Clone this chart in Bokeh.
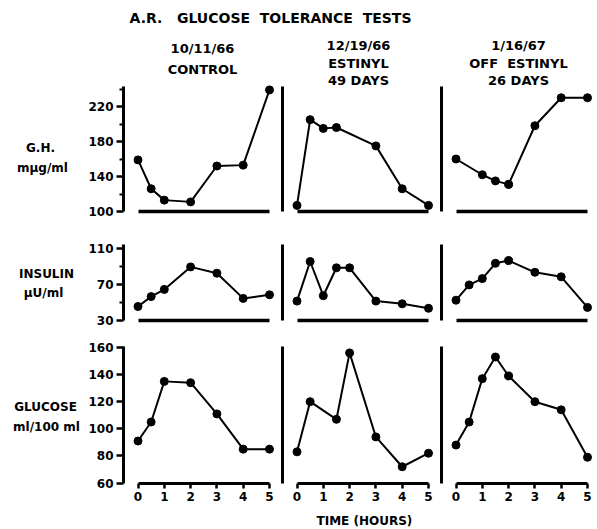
from bokeh.plotting import figure
from bokeh.models import Range1d, LinearAxis, FixedTicker
from bokeh.core.properties import value
from bokeh.embed import file_html
from bokeh.resources import INLINE

# ---------------- data ----------------
hour_ticks = [0, 1, 2, 3, 4, 5]
gh_ticks = [100, 140, 180, 220]
gh_minor = [120, 160, 200, 240]
insulin_ticks = [30, 70, 110]
insulin_minor = [50, 90]
glucose_ticks = [60, 80, 100, 120, 140, 160]

gh_control_t = [0, 0.5, 1, 2, 3, 4, 5]
gh_control = [159, 126, 113, 111, 152, 153, 239]
gh_estinyl_t = [0, 0.5, 1, 1.5, 3, 4, 5]
gh_estinyl = [107, 205, 195, 196, 175, 126, 107]
gh_off_t = [0, 1, 1.5, 2, 3, 4, 5]
gh_off = [160, 142, 135, 131, 198, 230, 230]

insulin_control_t = [0, 0.5, 1, 2, 3, 4, 5]
insulin_control = [45, 56, 64, 89, 82, 54, 58]
insulin_estinyl_t = [0, 0.5, 1, 1.5, 2, 3, 4, 5]
insulin_estinyl = [51, 95, 57, 88, 88, 51, 48, 43]
insulin_off_t = [0, 0.5, 1, 1.5, 2, 3, 4, 5]
insulin_off = [52, 69, 76, 93, 96, 83, 78, 44]

glucose_control_t = [0, 0.5, 1, 2, 3, 4, 5]
glucose_control = [91, 105, 135, 134, 111, 85, 85]
glucose_estinyl_t = [0, 0.5, 1.5, 2, 3, 4, 5]
glucose_estinyl = [83, 120, 107, 156, 94, 72, 82]
glucose_off_t = [0, 0.5, 1, 1.5, 2, 3, 4, 5]
glucose_off = [88, 105, 137, 153, 139, 120, 114, 79]

title_text = "A.R.\u00a0\u00a0 GLUCOSE\u00a0 TOLERANCE\u00a0 TESTS"
col_headers = [["10/11/66", "CONTROL"],
               ["12/19/66", "ESTINYL", "49 DAYS"],
               ["1/16/67", "OFF\u00a0 ESTINYL", "26 DAYS"]]
row_labels = [["G.H.", "m\u03bcg/ml"], ["INSULIN", "\u03bcU/ml"], ["GLUCOSE", "ml/100 ml"]]
x_title = "TIME  (HOURS)"

series = [
    [(gh_control_t, gh_control), (gh_estinyl_t, gh_estinyl), (gh_off_t, gh_off)],
    [(insulin_control_t, insulin_control), (insulin_estinyl_t, insulin_estinyl), (insulin_off_t, insulin_off)],
    [(glucose_control_t, glucose_control), (glucose_estinyl_t, glucose_estinyl), (glucose_off_t, glucose_off)],
]

# ---------------- layout ----------------
W, H, M = 597, 529, 0
FONT = "DejaVu Sans"
col_t0 = [137.5, 296.5, 455.5]      # picture x of t = 0 per column
PX_H = 26.3                           # px per hour
AXIS_T = -0.55                        # hour position of the vertical rule
rows = [
    dict(v0=100, p0=211.0, s=0.875, top=243, ticks=gh_ticks, minor=gh_minor),
    dict(v0=30, p0=319.5, s=0.9, top=114, ticks=insulin_ticks, minor=insulin_minor),
    dict(v0=60, p0=482.5, s=1.355, top=161, ticks=glucose_ticks, minor=[]),
]

p = figure(width=W, height=H, x_range=Range1d(M, M + W), y_range=Range1d(M + H, M),
           x_axis_type=None, y_axis_type=None, toolbar_location=None,
           output_backend="svg", min_border=0, min_border_left=0, min_border_right=0,
           min_border_top=0, min_border_bottom=0, outline_line_color=None,
           background_fill_color="white", border_fill_color="white")
p.extra_x_ranges = {f"x{c}": Range1d((M - t0) / PX_H, (M + W - t0) / PX_H)
                    for c, t0 in enumerate(col_t0)}
p.extra_y_ranges = {f"y{r}": Range1d(d["v0"] - (M + H - d["p0"]) / d["s"],
                                     d["v0"] + (d["p0"] - M) / d["s"])
                    for r, d in enumerate(rows)}


def add_axis(side, c, r, loc, bounds, ticks=(), minor=(), width=3.0, tick_out=0, minor_out=0):
    ax = LinearAxis(x_range_name=f"x{c}", y_range_name=f"y{r}", fixed_location=loc, bounds=bounds,
                    ticker=FixedTicker(ticks=list(ticks), minor_ticks=list(minor)),
                    axis_line_width=width, axis_line_color="black",
                    major_tick_in=0, major_tick_out=tick_out, major_tick_line_width=2.5,
                    major_tick_line_color="black",
                    minor_tick_in=0, minor_tick_out=minor_out, minor_tick_line_width=2,
                    minor_tick_line_color="black",
                    major_label_text_font=FONT, major_label_text_font_size="12px",
                    major_label_text_font_style="bold", major_label_text_color="black",
                    major_label_standoff=3)
    p.add_layout(ax, side)
    return ax


for r, d in enumerate(rows):
    for c in range(3):
        if c == 0:
            add_axis("left", c, r, AXIS_T, (d["v0"], d["top"]), d["ticks"], d["minor"],
                     width=3, tick_out=7, minor_out=4)
        else:
            add_axis("left", c, r, AXIS_T, (d["v0"], d["top"]), width=3)
        if r < 2:
            add_axis("below", c, r, d["v0"], (0, 5), width=3.5)
        else:
            ax = add_axis("below", c, r, d["v0"], (0, 5), hour_ticks, width=3, tick_out=5)
            ax.major_label_standoff = 4

for r, row in enumerate(series):
    for c, (t, v) in enumerate(row):
        p.line(t, v, x_range_name=f"x{c}", y_range_name=f"y{r}", line_width=2, line_color="black")
        p.scatter(t, v, x_range_name=f"x{c}", y_range_name=f"y{r}", size=8,
                  fill_color="black", line_color="black")

txt = dict(text_font=value(FONT), text_font_style="bold", text_color="black",
           text_align="center", text_baseline="middle")

# title
p.text(x=[270], y=[17], text=[title_text], text_font_size="14px", **txt)

# column headers
hx = [202, 358, 518]
hy = [[48, 69], [45, 63, 80], [45, 63, 80]]
for c, lines in enumerate(col_headers):
    p.text(x=[hx[c]] * len(lines), y=hy[c], text=lines, text_font_size="13px", **txt)

# row labels
rx = [[40, 42], [46, 43], [45, 46]]
ry = [[147, 167], [273, 292], [406, 426]]
for r, lines in enumerate(row_labels):
    p.text(x=rx[r], y=ry[r], text=lines, text_font_size="12px", **txt)

# x title
p.text(x=[366], y=[520], text=[x_title], text_font_size="12px", **txt)

open("out.html", "w").write(file_html(p, INLINE))
